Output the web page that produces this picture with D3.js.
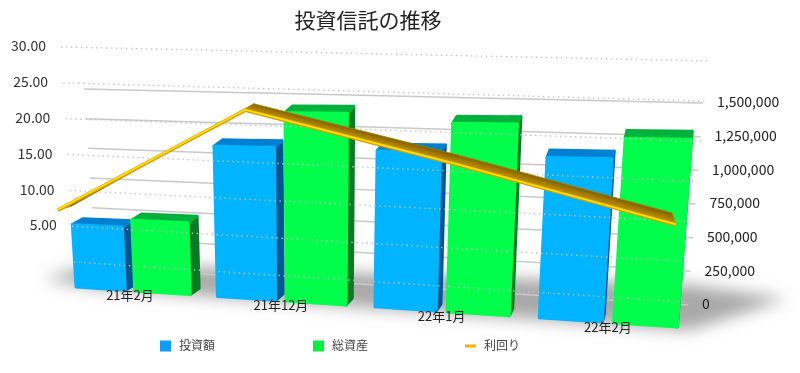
<!DOCTYPE html>
<html>
<head>
<meta charset="utf-8">
<script src="https://cdn.jsdelivr.net/npm/d3@7"></script>
<style>
  html, body { margin: 0; background: #fff; }
  text { font-family: "Noto Sans CJK JP", "Noto Sans", sans-serif; }
</style>
</head>
<body>
<div id="chart"></div>
<script>
// values
const categories = ["21年2月", "21年12月", "22年1月", "22年2月"];
const seriesNames = ["投資額", "総資産"];
const investment = [456000, 1050000, 1040000, 1020000];
const totalAssets = [507000, 1290000, 1230000, 1150000];
const yieldRate = [7.25, 22.07, 15.9, 9.6];
const rightTicks = [0, 250000, 500000, 750000, 1000000, 1250000, 1500000];
const leftTicks = [0, 5, 10, 15, 20, 25, 30];

const width = 800, height = 373;
const svg = d3.select("#chart").append("svg")
    .attr("width", width).attr("height", height)
    .style("display", "block")
    .style("filter", "blur(0.35px)");
const defs = svg.append("defs");

// 1. The fake-3D planes: [bottom left, bottom right, top left, top right]
const barPlane = [[76, 287], [708, 329], [64, 82], [728, 82]];
const wallPlane = [[96, 267], [688, 305], [84, 89], [703, 103]];
const dotPlane = [[74, 262], [685, 302], [61, 47], [710, 61]];
const linePlane = [[61, 262], [668, 302], [48, 47], [693, 61]];

function project(plane, u, v) {
    const [bl, br, tl, tr] = plane;
    const bx = bl[0] + (br[0] - bl[0]) * u, by = bl[1] + (br[1] - bl[1]) * u;
    const tx = tl[0] + (tr[0] - tl[0]) * u, ty = tl[1] + (tr[1] - tl[1]) * u;
    return [bx + (tx - bx) * v, by + (ty - by) * v];
}

// 2. Scales
const warp = d3.scalePow().exponent(1.08).domain([0, 1]).range([0, 1]);
const x0 = d3.scaleBand().domain(categories).range([0, 1]);
const x1 = d3.scaleBand().domain(seriesNames).range([0, x0.bandwidth() * 0.82]).paddingInner(0.15);
const xLine = d3.scalePoint().domain(categories).range([0, 1]);
const yRight = d3.scaleLinear().domain([0, 1500000]).range([0, 1]);
const yLeft = d3.scaleLinear().domain([0, 30]).range([0, 1]);
const path = d3.line().curve(d3.curveLinearClosed);

// depth of a bar top as it moves along the x axis
const depthX = d3.scaleLinear().domain([0, 1]).range([11, 0]);
const depthY = d3.scaleLinear().domain([0, 1]).range([-6, -8]);
const back = (p, U) => [p[0] + depthX(U), p[1] + depthY(U)];

// 3. Floor shadow
defs.append("filter").attr("id", "soft")
    .attr("x", "-20%").attr("y", "-60%").attr("width", "140%").attr("height", "220%")
    .append("feGaussianBlur").attr("stdDeviation", 8);
const shadowPts = [
    project(barPlane, -0.05, 0.03),
    project(wallPlane, 0, 0.02),
    project(wallPlane, 1, 0.1),
    project(barPlane, 1.12, 0.14),
    project(barPlane, 0.97, -0.01),
    project(barPlane, 0.03, 0)
];
svg.append("path").attr("d", path(shadowPts))
    .attr("fill", "#a8a8a8").attr("filter", "url(#soft)");

// 4. Solid grid on the back wall, with right axis labels
svg.append("g").selectAll("line").data(rightTicks).join("line")
    .attr("x1", d => project(wallPlane, 0, yRight(d))[0])
    .attr("y1", d => project(wallPlane, 0, yRight(d))[1])
    .attr("x2", d => project(wallPlane, 1, yRight(d))[0])
    .attr("y2", d => project(wallPlane, 1, yRight(d))[1])
    .attr("stroke", "#c9c9c9").attr("stroke-width", 1.5);

svg.append("g").selectAll("text").data(rightTicks).join("text")
    .attr("x", d => project(wallPlane, 1, yRight(d))[0] + 14)
    .attr("y", d => project(wallPlane, 1, yRight(d))[1] + 0.5)
    .attr("dominant-baseline", "middle")
    .attr("font-size", 14).attr("fill", "#222")
    .text(d3.format(","));

// 5. Bars, drawn left to right
const barColors = {
    "投資額": { front: "#00b4ff", top: "#0080d2", side: "#00558f" },
    "総資産": { front: "#00ff4a", top: "#00b23c", side: "#0a7a25" }
};
const bars = [];
categories.forEach((c, i) => {
    bars.push({ cat: c, name: seriesNames[0], value: investment[i] });
    bars.push({ cat: c, name: seriesNames[1], value: totalAssets[i] });
});

const barG = svg.append("g").selectAll("g").data(bars).join("g")
    .attr("stroke-linejoin", "round").attr("stroke-width", 3);

function corners(d) {
    const uL = x0(d.cat) + x1(d.name), uR = uL + x1.bandwidth();
    const UL = warp(uL), UR = warp(uR);
    return {
        UL, UR,
        bl: project(barPlane, UL, 0), br: project(barPlane, UR, 0),
        tl: project(barPlane, UL, yRight(d.value)), tr: project(barPlane, UR, yRight(d.value))
    };
}
barG.append("path")
    .attr("d", d => {
        const c = corners(d);
        return path([c.br, c.tr, back(c.tr, c.UR), back(c.br, c.UR)]);
    })
    .attr("fill", d => barColors[d.name].side).attr("stroke", d => barColors[d.name].side);
barG.append("path")
    .attr("d", d => {
        const c = corners(d);
        return path([c.tl, c.tr, back(c.tr, c.UR), back(c.tl, c.UL)]);
    })
    .attr("fill", d => barColors[d.name].top).attr("stroke", d => barColors[d.name].top);
barG.append("path")
    .attr("d", d => {
        const c = corners(d);
        return path([c.bl, c.br, c.tr, c.tl]);
    })
    .attr("fill", d => barColors[d.name].front).attr("stroke", d => barColors[d.name].front);

// 6. Dotted grid for the left axis sits over the bars
svg.append("g").selectAll("line").data(leftTicks).join("line")
    .attr("x1", d => project(dotPlane, 0, yLeft(d))[0])
    .attr("y1", d => project(dotPlane, 0, yLeft(d))[1])
    .attr("x2", d => project(dotPlane, 1, yLeft(d))[0])
    .attr("y2", d => project(dotPlane, 1, yLeft(d))[1])
    .attr("stroke", "#c4c4c4").attr("stroke-width", 1.4)
    .attr("stroke-dasharray", "1.4 3.6");

svg.append("g").selectAll("text").data(leftTicks.filter(d => d > 0)).join("text")
    .attr("x", d => project(dotPlane, 0, yLeft(d))[0] - 15)
    .attr("y", d => project(dotPlane, 0, yLeft(d))[1] + 0.5)
    .attr("text-anchor", "end").attr("dominant-baseline", "middle")
    .attr("font-size", 14).attr("fill", "#333")
    .text(d3.format(".2f"));

// 7. Ribbon line for the yield
const lineDx = d3.scaleLinear().domain([0, 1]).range([14, -4]);
const lineDy = d3.scaleLinear().domain([0, 1]).range([-4, -12]);
const front = yieldRate.map((d, i) => {
    const U = warp(xLine(categories[i]));
    return { U, p: project(linePlane, U, yLeft(d)) };
});
const ribbon = d3.pairs(front);
const ribbonG = svg.append("g");
ribbon.forEach(([a, b], i) => {
    const aBack = [a.p[0] + lineDx(a.U), a.p[1] + lineDy(a.U)];
    const bBack = [b.p[0] + lineDx(b.U), b.p[1] + lineDy(b.U)];
    // shade across the ribbon, so the colour bands run parallel to the front edge
    const ex = b.p[0] - a.p[0], ey = b.p[1] - a.p[1], len = Math.hypot(ex, ey);
    const nx = -ey / len, ny = ex / len;
    const mx = (aBack[0] + bBack[0]) / 2, my = (aBack[1] + bBack[1]) / 2;
    const dist = ((a.p[0] + b.p[0]) / 2 - mx) * nx + ((a.p[1] + b.p[1]) / 2 - my) * ny;
    const grad = defs.append("linearGradient").attr("id", "rib" + i)
        .attr("gradientUnits", "userSpaceOnUse")
        .attr("x1", mx).attr("y1", my)
        .attr("x2", mx + nx * dist).attr("y2", my + ny * dist);
    grad.append("stop").attr("offset", 0).attr("stop-color", "#806000");
    grad.append("stop").attr("offset", 1).attr("stop-color", "#c89a00");
    ribbonG.append("path")
        .attr("d", path([a.p, b.p, bBack, aBack]))
        .attr("fill", `url(#rib${i})`)
        .attr("stroke", "#a88000").attr("stroke-width", 0.8)
        .attr("stroke-linejoin", "round");
});
const openLine = d3.line();
svg.append("path").attr("d", openLine(front.map(d => d.p)))
    .attr("fill", "none").attr("stroke", "#d99a00").attr("stroke-width", 3.6);
svg.append("path").attr("d", openLine(front.map(d => [d.p[0], d.p[1] - 0.4])))
    .attr("fill", "none").attr("stroke", "#ffdf00").attr("stroke-width", 1.8);

// 8. Category labels under the bars
svg.append("g").selectAll("text").data(categories).join("text")
    .attr("x", d => project(barPlane, warp(x0(d) + x0.bandwidth() * 0.41), 0)[0])
    .attr("y", d => project(barPlane, warp(x0(d) + x0.bandwidth() * 0.41), 0)[1] + 6)
    .attr("text-anchor", "middle").attr("dominant-baseline", "middle")
    .attr("font-size", 13).attr("fill", "#222")
    .text(d => d);

// 9. Title and legend
svg.append("text").attr("x", 368).attr("y", 22)
    .attr("text-anchor", "middle").attr("dominant-baseline", "middle")
    .attr("font-size", 21).attr("fill", "#222")
    .text("投資信託の推移");

const legendItems = [
    { name: seriesNames[0], x: 160, color: "#0a9cff" },
    { name: seriesNames[1], x: 313, color: "#00f044" },
    { name: "利回り", x: 465, color: "#ffb000", line: true }
];
const legend = svg.append("g").selectAll("g").data(legendItems).join("g")
    .attr("transform", d => `translate(${d.x},346)`);
legend.append("rect")
    .attr("y", d => d.line ? -1.5 : -5.5)
    .attr("width", 11)
    .attr("height", d => d.line ? 3 : 11)
    .attr("fill", d => d.color);
legend.append("text")
    .attr("x", 19)
    .attr("y", 0.5)
    .attr("dominant-baseline", "middle")
    .attr("font-size", 12).attr("fill", "#444")
    .text(d => d.name);
</script>
</body>
</html>
